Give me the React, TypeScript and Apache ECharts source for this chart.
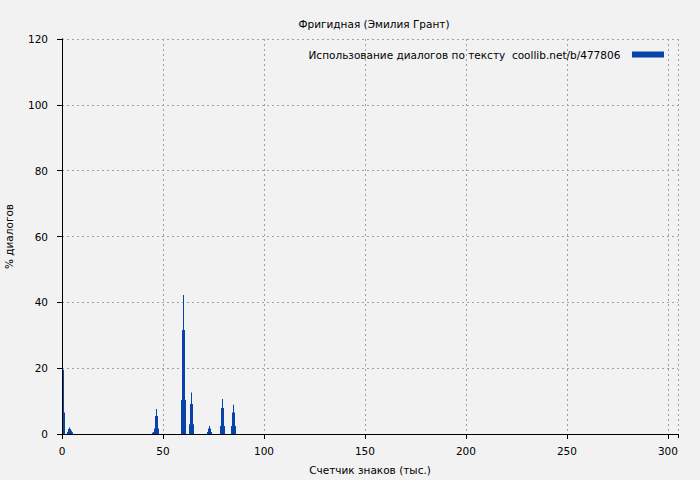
import React, { useEffect, useRef } from "react";
import * as echarts from "echarts";

const titleText = "Фригидная (Эмилия Грант)";
const seriesName = "Использование диалогов по тексту  coollib.net/b/477806";
const xAxisName = "Счетчик знаков (тыс.)";
const yAxisName = "% диалогов";

// positions in thousands of characters (0.5k steps) and % of dialogues
const xPositions = [
  0.5, 1,
  2.5, 3, 3.5, 4, 4.5, 5,
  45, 45.5, 46, 46.5, 47, 47.5, 48,
  59, 59.5, 60, 60.5, 61,
  63, 63.5, 64, 64.5, 65,
  72, 72.5, 73, 73.5, 74,
  78.5, 79, 79.5, 80, 80.5,
  84, 84.5, 85, 85.5, 86,
];
const yValues = [
  19.5, 6.5,
  0.6, 1.5, 2.0, 1.5, 1.0, 0.5,
  0.4, 0.6, 1.7, 5.5, 7.6, 5.5, 1.7,
  10.3, 31.6, 42.2, 31.6, 10.3,
  3.0, 9.1, 12.6, 9.1, 3.0,
  0.6, 1.7, 2.4, 1.7, 0.6,
  2.4, 7.9, 10.6, 7.9, 2.4,
  2.4, 6.5, 8.9, 6.5, 2.4,
];
const binWidth = 0.5;

const FONT = "DejaVu Sans";
const BAR_COLOR = "#0842ab";

export default function App() {
  const ref = useRef<HTMLDivElement>(null);
  useEffect(() => {
    if (!ref.current) return;
    const chart = echarts.init(ref.current, undefined, { renderer: "svg" });
    const data = xPositions.map((x, i) => [x, yValues[i]]);
    const textStyle = { fontFamily: FONT, fontSize: 10.5, color: "#000" };
    chart.setOption({
      animation: false,
      backgroundColor: "#f2f2f2",
      textStyle,
      title: {
        text: titleText,
        left: 369,
        textAlign: "center",
        top: 13,
        textStyle: { ...textStyle, fontWeight: "normal" },
      },
      legend: {
        right: 31,
        top: 44,
        align: "right",
        itemWidth: 32,
        itemHeight: 6,
        itemGap: 10,
        icon: "rect",
        formatter: (name: string) => name + "  ",
        textStyle: { ...textStyle },
        data: [seriesName],
      },
      grid: {
        left: 62,
        right: 22,
        top: 39,
        bottom: 46,
        containLabel: false,
        outerBoundsMode: "none",
      },
      xAxis: [
        {
          type: "value",
          min: 0,
          max: 305,
          interval: 50,
          position: "bottom",
          name: xAxisName,
          nameLocation: "middle",
          nameGap: 30,
          nameTextStyle: { ...textStyle },
          axisLine: { show: true, lineStyle: { color: "#000", width: 1 } },
          axisTick: { show: true, inside: false, length: 5, lineStyle: { color: "#000" } },
          axisLabel: { ...textStyle, margin: 11, showMaxLabel: false },
          splitLine: { show: true, lineStyle: { color: "#a0a0a0", type: [2, 3], width: 1 } },
        },
        {
          type: "value",
          min: 0,
          max: 305,
          interval: 50,
          position: "top",
          axisLine: { show: true, lineStyle: { color: "#000", width: 1 } },
          axisTick: { show: true, inside: true, length: 4, lineStyle: { color: "#000" } },
          axisLabel: { show: false },
          splitLine: { show: false },
        },
      ],
      yAxis: [
        {
          type: "value",
          min: 0,
          max: 120,
          interval: 20,
          position: "left",
          name: yAxisName,
          nameLocation: "middle",
          nameGap: 48,
          nameTextStyle: { ...textStyle },
          axisLine: { show: true, lineStyle: { color: "#000", width: 1 } },
          axisTick: { show: true, inside: false, length: 5, lineStyle: { color: "#000" } },
          axisLabel: { ...textStyle, margin: 14 },
          splitLine: { show: true, lineStyle: { color: "#a0a0a0", type: [2, 3], width: 1 } },
        },
        {
          type: "value",
          min: 0,
          max: 120,
          interval: 20,
          position: "right",
          axisLine: { show: true, lineStyle: { color: "#000", width: 1 } },
          axisTick: { show: true, inside: true, length: 4, lineStyle: { color: "#000" } },
          axisLabel: { show: false },
          splitLine: { show: false },
        },
      ],
      series: [
        {
          name: seriesName,
          type: "custom",
          xAxisIndex: 0,
          yAxisIndex: 0,
          itemStyle: { color: BAR_COLOR },
          data,
          renderItem: (params: any, api: any) => {
            const x = api.value(0);
            const y = api.value(1);
            const tl = api.coord([x - binWidth / 2, y]);
            const br = api.coord([x + binWidth / 2, 0]);
            const x0 = Math.round(tl[0]);
            const x1 = Math.max(x0 + 1, Math.round(br[0]));
            return {
              type: "rect",
              shape: { x: x0, y: tl[1], width: x1 - x0, height: br[1] - tl[1] },
              style: { fill: BAR_COLOR },
            };
          },
        },
      ],
    });
    return () => chart.dispose();
  }, []);
  return (
    <div
      ref={ref}
      style={{ position: "fixed", left: 0, top: 0, width: 700, height: 480 }}
    />
  );
}
